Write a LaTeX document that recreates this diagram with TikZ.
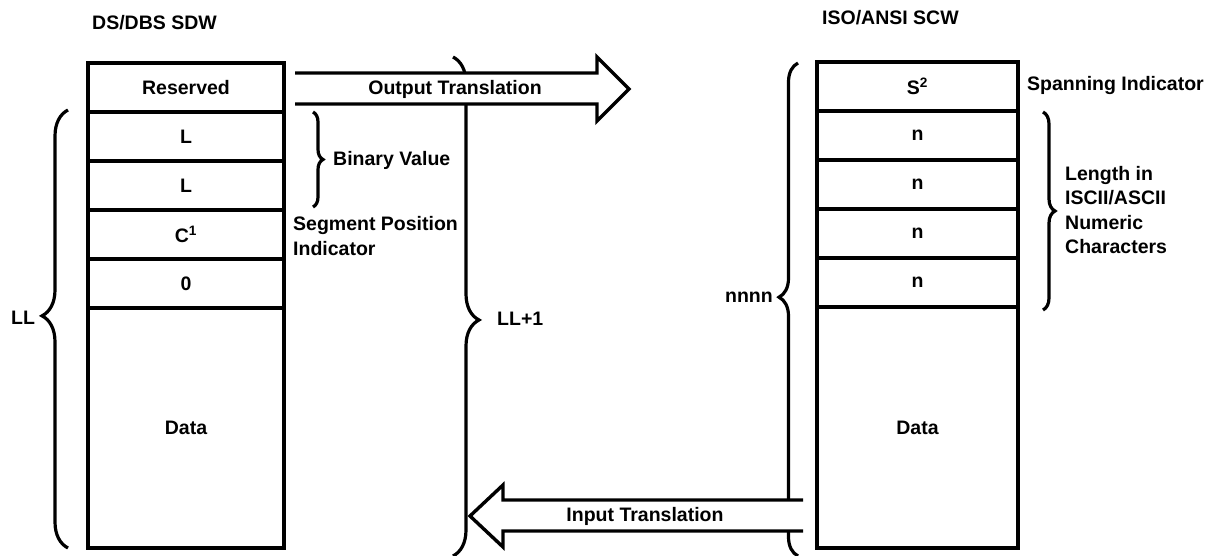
\documentclass[tikz,border=0pt]{standalone}
\usepackage{fontspec}
\setmainfont{Liberation Sans}
\usepackage{tikz}
\usetikzlibrary{positioning, decorations.pathreplacing}

\tikzset{
  cell/.style={draw, line width=3.4pt, minimum width=#1, minimum height=49pt,
               inner sep=0pt, outer sep=0pt},
  cell/.default=196pt,
  brace/.style 2 args={decorate, line width=3.2pt,
               decoration={brace, amplitude=#1, aspect=#2}},
  blockarrow/.style={draw, fill=white, line width=3.4pt, line join=miter},
  lbl/.style={anchor=west, inner sep=0pt, align=left}
}

\begin{document}
\begin{tikzpicture}[x=1pt, y=-1pt, font=\fontsize{19.5}{24.5}\selectfont\bfseries]
        \useasboundingbox (0,0) rectangle (1217,556);
        % titles
        \node[lbl] (sdwtitle) at (92,23) {DS/DBS SDW};
        \node[lbl] (scwtitle) at (822,18) {ISO/ANSI SCW};
        % DS/DBS SDW fields
        \foreach \i/\txt in {1/Reserved, 2/L, 3/L, 4/C\textsuperscript{1}, 5/0} {
          \node[cell] (sdw\i) at (186, {63+49*\i-24.5}) {\txt};
        }
        \node[cell, minimum height=240pt, below=0pt of sdw5] (sdwdata) {Data};
        % ISO/ANSI SCW fields
        \foreach \i/\txt in {1/S\textsuperscript{2}, 2/n, 3/n, 4/n, 5/n} {
          \node[cell=201pt] (scw\i) at (917.5, {62+49*\i-24.5}) {\txt};
        }
        \node[cell=201pt, minimum height=241pt, below=0pt of scw5] (scwdata) {Data};
        % braces
        \draw[brace={26pt}{0.53}] (68,548) -- (68,110);
        \node (ll) at (23,318) {LL};
        \draw[brace={10pt}{0.5}] (313,112) -- (313,207);
        \node[lbl] (binval) at (333,160) {Binary Value};
        \node[lbl] (segpos) at (293,236) {Segment Position\\Indicator};
        \draw[brace={26pt}{0.527}] (453,57) -- (453,556);
        \node[lbl] (llplus) at (497,319) {LL+1};
        \draw[brace={19pt}{0.525}] (798,556) -- (798,63);
        \node[lbl, anchor=east] (nnnn) at (773,297) {nnnn};
        \node[lbl] (spanind) at (1027,86) {Spanning Indicator};
        \draw[brace={12pt}{0.5}] (1043,112) -- (1043,310);
        \node[lbl] (lenchars) at (1065,210) {Length in\\ISCII/ASCII\\Numeric\\Characters};
        % translations
        \path[blockarrow] (295,73) -- (597,73) -- (597,57) -- (629,89)
              -- (597,121) -- (597,104) -- (295,104);
        \node (outlbl) at (455,89) {Output Translation};
        \path[blockarrow] (803,500) -- (503,500) -- (503,485) -- (470,516)
              -- (503,547) -- (503,531) -- (803,531);
        \node (inlbl) at (645,516) {Input Translation};
      \end{tikzpicture}
\end{document}
